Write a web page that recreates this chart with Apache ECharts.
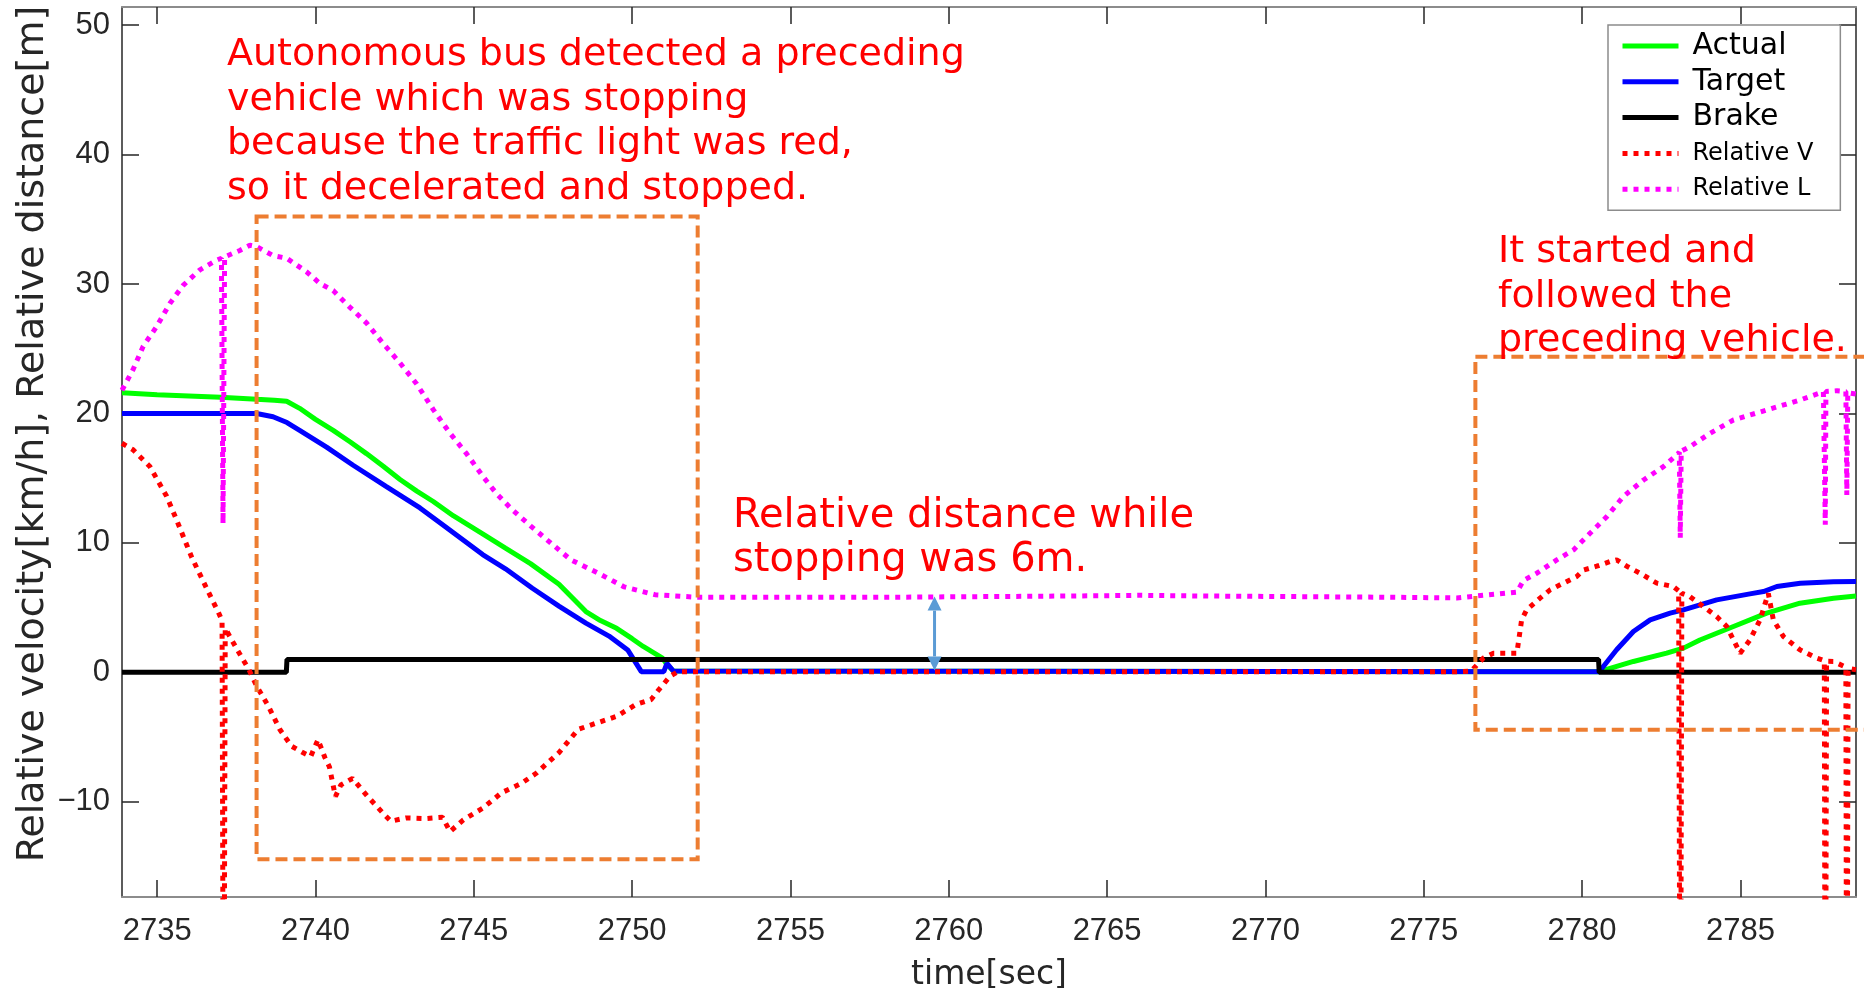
<!DOCTYPE html>
<html>
<head>
<meta charset="utf-8">
<script src="https://cdn.jsdelivr.net/npm/echarts@6/dist/echarts.min.js"></script>
<style>
  html, body { margin: 0; padding: 0; background: #ffffff; }
  #chart { width: 1864px; height: 988px; }
</style>
</head>
<body>
<div id="chart"></div>
<script>
// Axis ticks
const xTicks = [2735, 2740, 2745, 2750, 2755, 2760, 2765, 2770, 2775, 2780, 2785];
const yTicks = [-10, 0, 10, 20, 30, 40, 50];

// Vehicle speed [km/h]
const actual = [
  [2733.89, 21.6], [2735.0, 21.45], [2736.0, 21.35], [2737.0, 21.25], [2738.14, 21.1],
  [2738.7, 21.03], [2739.09, 20.95], [2739.5, 20.4], [2740.0, 19.55], [2740.56, 18.7],
  [2741.1, 17.8], [2741.61, 16.9], [2742.15, 15.9], [2742.67, 14.9], [2743.2, 14.0],
  [2743.72, 13.2], [2744.35, 12.1], [2745.28, 10.7], [2746.0, 9.6], [2746.79, 8.4],
  [2747.69, 6.8], [2748.54, 4.7], [2749.0, 4.0], [2749.51, 3.4], [2750.0, 2.6],
  [2750.35, 2.0], [2750.96, 1.1], [2751.1, 0.6], [2751.3, 0.1], [2780.54, 0.05],
  [2781.62, 0.84], [2782.67, 1.48], [2783.2, 1.87], [2783.72, 2.5], [2784.78, 3.54],
  [2785.83, 4.57], [2786.88, 5.34], [2787.94, 5.73], [2788.65, 5.9]
];

// Target speed [km/h]
const target = [
  [2733.89, 20.0], [2738.14, 20.0], [2738.66, 19.75], [2739.1, 19.3], [2739.5, 18.7],
  [2740.35, 17.4], [2741.19, 16.0], [2742.24, 14.35], [2743.3, 12.7], [2744.07, 11.3],
  [2745.28, 9.1], [2746.0, 8.0], [2746.85, 6.5], [2747.7, 5.1], [2748.54, 3.8],
  [2749.27, 2.8], [2749.87, 1.7], [2750.29, 0.05], [2751.0, 0.05], [2751.1, 0.7],
  [2751.3, 0.1], [2780.54, 0.05], [2781.09, 1.74], [2781.62, 3.15], [2782.15, 4.05],
  [2782.78, 4.57], [2783.2, 4.83], [2784.25, 5.6], [2785.3, 6.06], [2785.73, 6.24],
  [2786.15, 6.63], [2786.89, 6.89], [2787.94, 6.99], [2788.65, 7.01]
];

// Brake flag
const brake = [
  [2733.89, 0], [2739.08, 0], [2739.1, 1], [2780.52, 1], [2780.54, 0], [2788.65, 0]
];

// Relative velocity to the preceding vehicle [km/h]
const relativeV = [
  [2733.89, 17.7], [2734.24, 17.2], [2734.77, 15.9], [2735.3, 13.6], [2735.61, 11.8],
  [2736.09, 8.9], [2736.58, 6.4], [2736.94, 4.6], [2737.05, 4.0], [2737.1, -40],
  [2737.15, 3.4], [2737.54, 1.7], [2737.9, 0.2], [2738.15, -1.1], [2738.51, -2.6],
  [2738.87, -4.4], [2739.24, -5.7], [2739.6, -6.2], [2739.85, -6.5], [2740.08, -5.2],
  [2740.3, -6.6], [2740.44, -7.3], [2740.63, -9.6], [2740.8, -8.7], [2741.17, -8.2],
  [2741.65, -9.6], [2742.14, -10.9], [2742.38, -11.5], [2742.86, -11.25], [2743.46, -11.3],
  [2744.01, -11.2], [2744.25, -12.3], [2744.67, -11.4], [2745.28, -10.5], [2745.88, -9.3],
  [2746.49, -8.6], [2746.97, -7.8], [2747.69, -6.2], [2748.3, -4.4], [2748.9, -3.9],
  [2749.51, -3.4], [2750.11, -2.5], [2750.6, -2.1], [2750.84, -1.35], [2751.2, -0.3],
  [2751.44, 0.05], [2776.04, 0.05], [2776.5, 0.1], [2776.88, 1.1], [2777.2, 1.48],
  [2777.94, 1.48], [2778.0, 2.5], [2778.09, 4.05], [2778.25, 4.83], [2778.67, 5.73],
  [2778.99, 6.37], [2779.41, 6.89], [2779.83, 7.4], [2780.04, 7.9], [2780.46, 8.2],
  [2780.88, 8.56], [2781.09, 8.69], [2781.41, 8.2], [2781.83, 7.66], [2782.36, 6.89],
  [2782.88, 6.63], [2783.05, 6.3], [2783.1, -40], [2783.15, 6.1], [2783.41, 5.85],
  [2783.83, 5.08], [2784.25, 4.31], [2784.57, 3.54], [2784.99, 1.48], [2785.3, 2.5],
  [2785.62, 4.05], [2785.88, 6.1], [2786.04, 4.05], [2786.36, 2.76], [2786.88, 1.74],
  [2787.41, 1.1], [2787.65, 0.9], [2787.68, -40], [2787.72, 0.85], [2787.94, 0.84],
  [2788.33, 0.4], [2788.36, -40], [2788.4, 0.3], [2788.65, 0.2]
];

// Relative distance to the preceding vehicle [m]
const relativeL = [
  [2733.89, 21.8], [2734.24, 23.4], [2734.56, 25.2], [2734.98, 26.7], [2735.4, 28.5],
  [2735.82, 29.9], [2736.35, 31.1], [2736.88, 31.85], [2737.03, 32.0], [2737.08, 11.5],
  [2737.13, 32.1], [2737.61, 32.6], [2737.93, 33.0], [2738.14, 32.9], [2738.66, 32.2],
  [2739.09, 32.0], [2739.72, 30.95], [2740.14, 30.05], [2740.56, 29.5], [2741.09, 28.2],
  [2741.61, 27.0], [2742.14, 25.4], [2742.67, 23.9], [2743.19, 22.3], [2743.72, 20.3],
  [2744.24, 18.5], [2744.77, 16.9], [2745.3, 15.1], [2745.72, 13.8], [2746.2, 12.6],
  [2746.8, 11.3], [2747.33, 10.2], [2748.06, 8.7], [2748.9, 7.7], [2749.75, 6.6],
  [2750.72, 6.0], [2752.05, 5.8], [2755.0, 5.8], [2758.0, 5.8], [2761.0, 5.85],
  [2764.0, 5.9], [2766.0, 5.95], [2768.0, 5.9], [2771.0, 5.85], [2774.0, 5.8],
  [2776.04, 5.75], [2776.88, 5.95], [2777.94, 6.2], [2778.15, 7.1], [2778.57, 7.66],
  [2779.2, 8.69], [2779.73, 9.46], [2780.25, 10.75], [2780.78, 12.03], [2781.3, 13.58],
  [2781.94, 14.86], [2782.57, 15.9], [2782.99, 16.8], [2783.07, 17.0], [2783.1, 10.4],
  [2783.13, 17.1], [2783.41, 17.44], [2784.04, 18.47], [2784.78, 19.5], [2785.83, 20.27],
  [2786.88, 21.04], [2787.62, 21.68], [2787.66, 21.7], [2787.68, 11.4], [2787.7, 21.7],
  [2788.05, 21.76], [2788.33, 21.7], [2788.36, 13.7], [2788.39, 21.6], [2788.65, 21.5]
];

// Highlighted phases: [tStart, top, tEnd, bottom]
const phaseBoxes = [
  [2738.14, 35.22, 2752.07, -14.44],
  [2776.63, 24.39, 2789.0, -4.43]
];

// Stopping gap marker: [t, upper, lower]
const gapMarker = [[2759.55, 5.85, 0.15]];

const legendNames = ['Actual', 'Target', 'Brake', 'Relative V', 'Relative L'];

const X_MIN = 2733.89, X_MAX = 2788.65;
const Y_MIN = -17.36, Y_MAX = 51.41;

const TICK_FONT = '"Liberation Sans", Arial, sans-serif';
const TEXT_FONT = '"DejaVu Sans", "Noto Sans", sans-serif';
const AXIS_DARK = '#262626';
const NOTE_RED = '#FF0000';

function fmtNum(v) {
  return v < 0 ? '\u2212' + Math.abs(v) : String(v);
}

function baseXAxis(position, showLabel) {
  return {
    type: 'value', position: position, min: X_MIN, max: X_MAX,
    axisLine: { show: true, onZero: false, lineStyle: { color: '#8c8c8c', width: 2 } },
    axisTick: { show: true, inside: true, length: 17, customValues: xTicks,
                lineStyle: { color: AXIS_DARK, width: 1.5 } },
    axisLabel: { show: showLabel, customValues: xTicks, margin: 19,
                 fontFamily: TICK_FONT, fontSize: 31, color: AXIS_DARK,
                 formatter: function (v) { return String(v); } },
    splitLine: { show: false }
  };
}

function baseYAxis(position, showLabel) {
  return {
    type: 'value', position: position, min: Y_MIN, max: Y_MAX,
    axisLine: { show: true, onZero: false, lineStyle: { color: AXIS_DARK, width: 1.5 } },
    axisTick: { show: true, inside: true, length: 17, customValues: yTicks,
                lineStyle: { color: AXIS_DARK, width: 1.5 } },
    axisLabel: { show: showLabel, customValues: yTicks, margin: 12,
                 fontFamily: TICK_FONT, fontSize: 31, color: AXIS_DARK,
                 formatter: fmtNum },
    splitLine: { show: false }
  };
}

const xMain = baseXAxis('bottom', true);
xMain.name = 'time[sec]';
xMain.nameLocation = 'middle';
xMain.nameGap = 62;
xMain.nameTextStyle = { fontFamily: TEXT_FONT, fontSize: 33, color: AXIS_DARK };

function lineSeries(name, data, color, dotted) {
  return {
    name: name, type: 'line', data: data,
    symbol: 'none', showSymbol: false, silent: true,
    xAxisIndex: 0, yAxisIndex: 0, z: 2,
    lineStyle: dotted
      ? { color: color, width: 5, type: [5, 6], cap: 'butt' }
      : { color: color, width: 5 },
    itemStyle: { color: color },
    emphasis: { disabled: true }
  };
}

const chart = echarts.init(document.getElementById('chart'), null, { renderer: 'canvas' });

chart.setOption({
  animation: false,
  backgroundColor: '#ffffff',
  grid: { left: 122, top: 7, right: 8, bottom: 91, outerBoundsMode: 'none', containLabel: false },
  xAxis: [xMain, baseXAxis('top', false)],
  yAxis: [baseYAxis('left', true), baseYAxis('right', false)],
  legend: {
    data: legendNames,
    orient: 'vertical',
    left: 1608, top: 25,
    padding: [6, 27, 6, 12],
    itemWidth: 56, itemHeight: 14, itemGap: 5.8,
    backgroundColor: '#ffffff',
    borderColor: '#8c8c8c', borderWidth: 1.5,
    selectedMode: false,
    itemStyle: { opacity: 0 },
    lineStyle: { width: 5 },
    formatter: function (name) {
      return name.indexOf('Relative') === 0 ? '{s|' + name + '}' : '{b|' + name + '}';
    },
    textStyle: {
      fontFamily: TEXT_FONT, color: '#000000', fontSize: 30, lineHeight: 30,
      rich: {
        b: { fontFamily: TEXT_FONT, fontSize: 30, lineHeight: 30, height: 30,
             padding: [0, 0, 0, 9], color: '#000000' },
        s: { fontFamily: TEXT_FONT, fontSize: 24, lineHeight: 30, height: 30,
             padding: [0, 0, 0, 9], color: '#000000' }
      }
    }
  },
  series: [
    lineSeries('Actual', actual, '#00FF00', false),
    lineSeries('Target', target, '#0000FF', false),
    lineSeries('Brake', brake, '#000000', false),
    lineSeries('Relative V', relativeV, '#FF0000', true),
    lineSeries('Relative L', relativeL, '#FF00FF', true),
    {
      type: 'custom', name: 'phases', data: phaseBoxes, clip: false, silent: true, z: 10,
      encode: { x: [0, 2], y: [1, 3] },
      renderItem: function (params, api) {
        const a = api.coord([api.value(0), api.value(1)]);
        const b = api.coord([api.value(2), api.value(3)]);
        return {
          type: 'polygon',
          shape: { points: [[a[0], a[1]], [b[0], a[1]], [b[0], b[1]], [a[0], b[1]]] },
          style: { fill: null, stroke: '#ED7D31', lineWidth: 4, lineDash: [12, 6] }
        };
      }
    },
    {
      type: 'custom', name: 'gap', data: gapMarker, clip: false, silent: true, z: 11,
      encode: { x: 0, y: [1, 2] },
      renderItem: function (params, api) {
        const up = api.coord([api.value(0), api.value(1)]);
        const lo = api.coord([api.value(0), api.value(2)]);
        const hw = 7, hh = 14, c = '#5B9BD5';
        return {
          type: 'group',
          children: [
            { type: 'line', shape: { x1: up[0], y1: up[1] + hh, x2: lo[0], y2: lo[1] - hh },
              style: { stroke: c, lineWidth: 3 } },
            { type: 'polygon', shape: { points: [[up[0], up[1]], [up[0] - hw, up[1] + hh], [up[0] + hw, up[1] + hh]] },
              style: { fill: c } },
            { type: 'polygon', shape: { points: [[lo[0], lo[1]], [lo[0] - hw, lo[1] - hh], [lo[0] + hw, lo[1] - hh]] },
              style: { fill: c } }
          ]
        };
      }
    }
  ],
  graphic: [
    {
      type: 'text', x: 33, y: 434, rotation: Math.PI / 2, z: 20, silent: true,
      style: {
        text: 'Relative velocity[km/h], Relative distance[m]',
        fill: AXIS_DARK, fontFamily: TEXT_FONT, fontSize: 38,
        align: 'center', verticalAlign: 'middle'
      }
    },
    {
      type: 'text', left: 227, top: 33, z: 20, silent: true,
      style: {
        text: 'Autonomous bus detected a preceding\nvehicle which was stopping\nbecause the traffic light was red,\nso it decelerated and stopped.',
        fill: NOTE_RED, fontFamily: TEXT_FONT, fontSize: 38, lineHeight: 44.5
      }
    },
    {
      type: 'text', left: 733, top: 495, z: 20, silent: true,
      style: {
        text: 'Relative distance while\nstopping was 6m.',
        fill: NOTE_RED, fontFamily: TEXT_FONT, fontSize: 40, lineHeight: 44
      }
    },
    {
      type: 'text', left: 1498, top: 230, z: 20, silent: true,
      style: {
        text: 'It started and\nfollowed the\npreceding vehicle.',
        fill: NOTE_RED, fontFamily: TEXT_FONT, fontSize: 38, lineHeight: 44.5
      }
    }
  ]
});
</script>
</body>
</html>
